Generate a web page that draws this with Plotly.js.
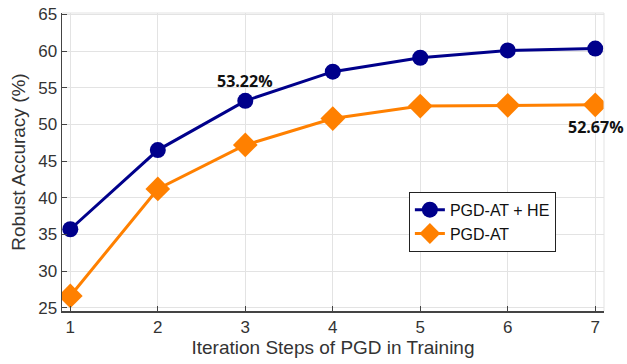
<!DOCTYPE html>
<html>
<head>
<meta charset="utf-8">
<script src="https://cdn.plot.ly/plotly-3.0.1.min.js"></script>
<style>html,body{margin:0;padding:0;background:#fff;}#chart{width:627px;height:364px;}</style>
</head>
<body>
<div id="chart"></div>
<script>
var steps = [1, 2, 3, 4, 5, 6, 7];
var pgdAtHe = [35.7, 46.5, 53.22, 57.2, 59.1, 60.1, 60.35];
var pgdAt = [26.6, 41.2, 47.2, 50.8, 52.5, 52.6, 52.67];
var seriesNames = ['PGD-AT + HE', 'PGD-AT'];
var yTicks = [25, 30, 35, 40, 45, 50, 55, 60, 65];
var labelHe = '53.22%';
var labelAt = '52.67%';

var txt = 'Liberation Sans';
var sans = 'Open Sans';

var traces = [
  {x: steps, y: pgdAtHe, name: seriesNames[0], type: 'scatter', mode: 'lines+markers',
   line: {color: '#00008B', width: 3}, marker: {symbol: 'circle', size: 16, color: '#00008B'}},
  {x: steps, y: pgdAt, name: seriesNames[1], type: 'scatter', mode: 'lines+markers',
   line: {color: '#FF8000', width: 3}, marker: {symbol: 'diamond', size: 19, color: '#FF8000'}}
];

var layout = {
  width: 627, height: 364,
  margin: {l: 62, r: 23, t: 13, b: 53},
  paper_bgcolor: '#fff', plot_bgcolor: '#fff',
  font: {family: txt, color: '#333'},
  xaxis: {
    range: [0.905, 7.1], tickvals: steps, ticks: 'inside', ticklen: 5, tickcolor: '#444',
    showline: true, linecolor: '#444', linewidth: 1.5, showgrid: true, gridcolor: '#e3e3e3',
    zeroline: false, tickfont: {family: txt, size: 17, color: '#333'},
    title: {text: 'Iteration Steps of PGD in Training', font: {family: txt, size: 19, color: '#333'}, standoff: 5}
  },
  yaxis: {
    range: [24.55, 65.2], tickvals: yTicks, ticks: 'inside', ticklen: 5, tickcolor: '#444',
    showline: true, linecolor: '#444', linewidth: 1.5, showgrid: true, gridcolor: '#e3e3e3',
    zeroline: false, tickfont: {family: txt, size: 17, color: '#333'},
    title: {text: 'Robust Accuracy (%)', font: {family: txt, size: 19, color: '#333'}, standoff: 7}
  },
  shapes: [
    {type: 'line', xref: 'paper', yref: 'paper', x0: 1, x1: 1, y0: 0, y1: 1, line: {color: '#e3e3e3', width: 1}},
    {type: 'line', xref: 'paper', yref: 'paper', x0: 0, x1: 1, y0: 1, y1: 1, line: {color: '#e3e3e3', width: 1}}
  ],
  showlegend: true,
  legend: {
    x: 0.64, y: 0.40, xanchor: 'left', yanchor: 'top',
    bgcolor: '#fff', bordercolor: '#222', borderwidth: 1,
    font: {family: txt, size: 16, color: '#111'}, tracegroupgap: 0, itemwidth: 30
  },
  annotations: [
    {x: steps[2], y: pgdAtHe[2], text: '<b>' + labelHe + '</b>', showarrow: false, yshift: 20, xshift: 0,
     font: {family: sans, size: 16, color: '#111'}},
    {x: steps[6], y: pgdAt[6], text: '<b>' + labelAt + '</b>', showarrow: false, yshift: -22, xshift: 1,
     font: {family: sans, size: 16, color: '#111'}}
  ]
};

Plotly.newPlot('chart', traces, layout, {displayModeBar: false, staticPlot: true});
</script>
</body>
</html>
